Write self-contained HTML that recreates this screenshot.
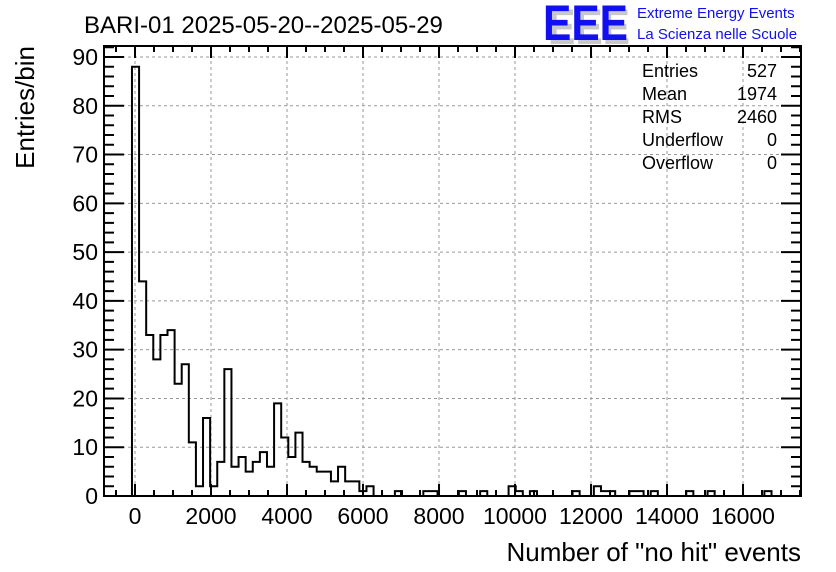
<!DOCTYPE html>
<html><head><meta charset="utf-8"><style>
body{margin:0;background:#fff}
svg{display:block;font-family:"Liberation Sans",sans-serif}
</style></head><body>
<svg id="c" width="836" height="572" viewBox="0 0 836 572">
<text x="84" y="33" font-size="24">BARI-01 2025-05-20--2025-05-29</text>
<g>
<text x="548" y="44" font-size="50" font-weight="bold" fill="#c8c8c8" textLength="82" lengthAdjust="spacingAndGlyphs">EEE</text>
<text x="543" y="40" font-size="50" font-weight="bold" fill="#1010f0" textLength="85" lengthAdjust="spacingAndGlyphs">EEE</text>
<text x="637" y="18" font-size="15" fill="#1010f0">Extreme Energy Events</text>
<text x="637" y="39" font-size="15" fill="#1010f0">La Scienza nelle Scuole</text>
</g>
<g id="grid"></g><g id="ticks"></g><g id="hist"></g>
<rect x="104" y="46" width="697" height="450" fill="none" stroke="#000" stroke-width="2"/>
<g id="labels"></g>
<text x="801" y="561" font-size="26" text-anchor="end">Number of "no hit" events</text>
<text transform="translate(34,46) rotate(-90)" font-size="26" text-anchor="end">Entries/bin</text>
<g font-size="18">
<text x="642" y="77">Entries</text><text x="777" y="77" text-anchor="end">527</text>
<text x="642" y="100">Mean</text><text x="777" y="100" text-anchor="end">1974</text>
<text x="642" y="123">RMS</text><text x="777" y="123" text-anchor="end">2460</text>
<text x="642" y="146">Underflow</text><text x="777" y="146" text-anchor="end">0</text>
<text x="642" y="169">Overflow</text><text x="777" y="169" text-anchor="end">0</text>
</g>
</svg>
<script>
const counts=[88,44,33,28,33,34,23,27,11,2,16,2,7,26,6,8,5,7,9,6,19,12,8,13,7,6,5,5,3,6,3,3,1,2,0,0,0,1,0,0,0,1,1,0,0,0,1,0,0,1,0,0,0,2,1,0,1,0,0,0,0,0,1,0,0,2,1,1,0,0,1,1,0,1,0,0,0,0,1,0,0,1,0,0,0,0,0,0,0,1,0,0,0];
const binStart=-80, binWidth=187;
const xTicks=[0,2000,4000,6000,8000,10000,12000,14000,16000];
const yTicks=[0,10,20,30,40,50,60,70,80,90];
const X0=104,X1=801,Y0=496,Y1=46;
const xMin=-816,xMax=17526,yMin=0,yMax=92.25;
const sx=v=>X0+(v-xMin)/(xMax-xMin)*(X1-X0);
const sy=v=>Y0-(v-yMin)/(yMax-yMin)*(Y0-Y1);
const NS="http://www.w3.org/2000/svg";
function mk(p,t,a){const e=document.createElementNS(NS,t);for(const k in a)e.setAttribute(k,a[k]);document.getElementById(p).appendChild(e);return e;}
xTicks.forEach(v=>{const l=mk('grid','line',{x1:sx(v),x2:sx(v),y1:Y0,y2:Y1,stroke:'#999','stroke-dasharray':'3,3'});


const t=mk('labels','text',{x:sx(v),y:524,'font-size':23,'text-anchor':'middle'});t.textContent=v;

});
yTicks.forEach(v=>{if(v>0){const l=mk('grid','line',{x1:X0,x2:X1,y1:sy(v),y2:sy(v),stroke:'#999','stroke-dasharray':'3,3'});

}
const t=mk('labels','text',{x:98,y:sy(v)+8,'font-size':23,'text-anchor':'end'});t.textContent=v;

});
let d='';
for(let v=-500;v<=17500;v+=500){const x=sx(v);if(x<X0||x>X1)continue;const L=v%2000===0?12:6;d+=`M${x} ${Y0}V${Y0-L}M${x} ${Y1}V${Y1+L}`;}
for(let v=0;v<=92;v+=2){const y=sy(v);const L=v%10===0?20:10;d+=`M${X0} ${y}H${X0+L}M${X1} ${y}H${X1-L}`;}
const tk=mk('ticks','path',{d:d,stroke:'#000','stroke-width':2,fill:'none'});


let p=`M${sx(binStart)} ${sy(0)}`;
counts.forEach((c,i)=>{const b=sx(binStart+(i+1)*binWidth);p+=`V${sy(c)}H${b}`;});
p+=`V${sy(0)}`;
const h=mk('hist','path',{d:p,stroke:'#000','stroke-width':2,fill:'none'});


</script>
</body></html>
